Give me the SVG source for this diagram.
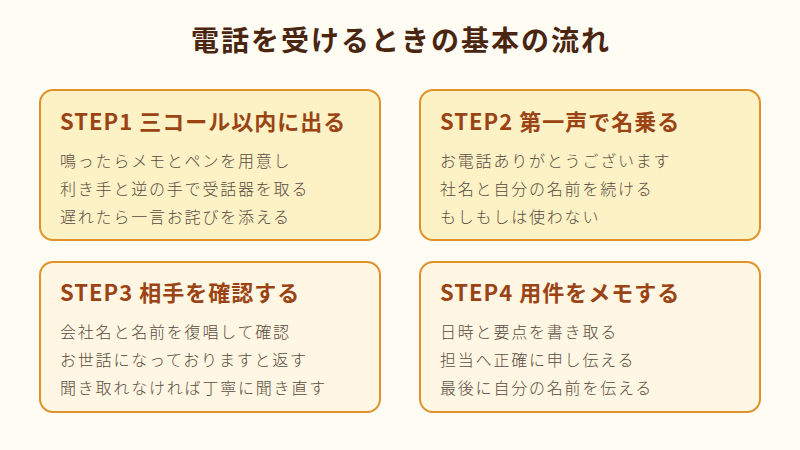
<svg xmlns="http://www.w3.org/2000/svg" width="800" height="450" viewBox="0 0 800 450">
<style>
.card{stroke:#E0922A;stroke-width:2}
.hi{fill:#FDF1C6}
.lo{fill:#FFF6E3}
.title{font-family:"Noto Sans CJK JP","Noto Sans",sans-serif;font-size:28px;font-weight:700;fill:#4A2510;text-anchor:middle;letter-spacing:2px}
.head{font-family:"Noto Sans CJK JP","Noto Sans",sans-serif;font-size:22px;font-weight:700;fill:#9A4415;letter-spacing:1px}
.body{font-family:"Noto Sans CJK JP","Noto Sans",sans-serif;font-size:16px;font-weight:300;fill:#5A4C40;letter-spacing:1.8px}
</style>
<rect width="800" height="450" fill="#FFFCF4"/>
<text class="title" x="401" y="51">電話を受けるときの基本の流れ</text>
<g id="step1">
<rect class="card hi" x="40" y="90" width="340" height="150" rx="13"/>
<text class="head" x="60" y="130">STEP1 三コール以内に出る</text>
<text class="body" x="60" y="167">鳴ったらメモとペンを用意し</text>
<text class="body" x="60" y="195">利き手と逆の手で受話器を取る</text>
<text class="body" x="60" y="223">遅れたら一言お詫びを添える</text>
</g>
<g id="step2">
<rect class="card hi" x="420" y="90" width="340" height="150" rx="13"/>
<text class="head" x="440" y="130">STEP2 第一声で名乗る</text>
<text class="body" x="440" y="167">お電話ありがとうございます</text>
<text class="body" x="440" y="195">社名と自分の名前を続ける</text>
<text class="body" x="440" y="223">もしもしは使わない</text>
</g>
<g id="step3">
<rect class="card lo" x="40" y="262" width="340" height="150" rx="13"/>
<text class="head" x="60" y="301">STEP3 相手を確認する</text>
<text class="body" x="60" y="338">会社名と名前を復唱して確認</text>
<text class="body" x="60" y="366">お世話になっておりますと返す</text>
<text class="body" x="60" y="394">聞き取れなければ丁寧に聞き直す</text>
</g>
<g id="step4">
<rect class="card lo" x="420" y="262" width="340" height="150" rx="13"/>
<text class="head" x="440" y="301">STEP4 用件をメモする</text>
<text class="body" x="440" y="338">日時と要点を書き取る</text>
<text class="body" x="440" y="366">担当へ正確に申し伝える</text>
<text class="body" x="440" y="394">最後に自分の名前を伝える</text>
</g>
<g id="connectors"/>
</svg>
